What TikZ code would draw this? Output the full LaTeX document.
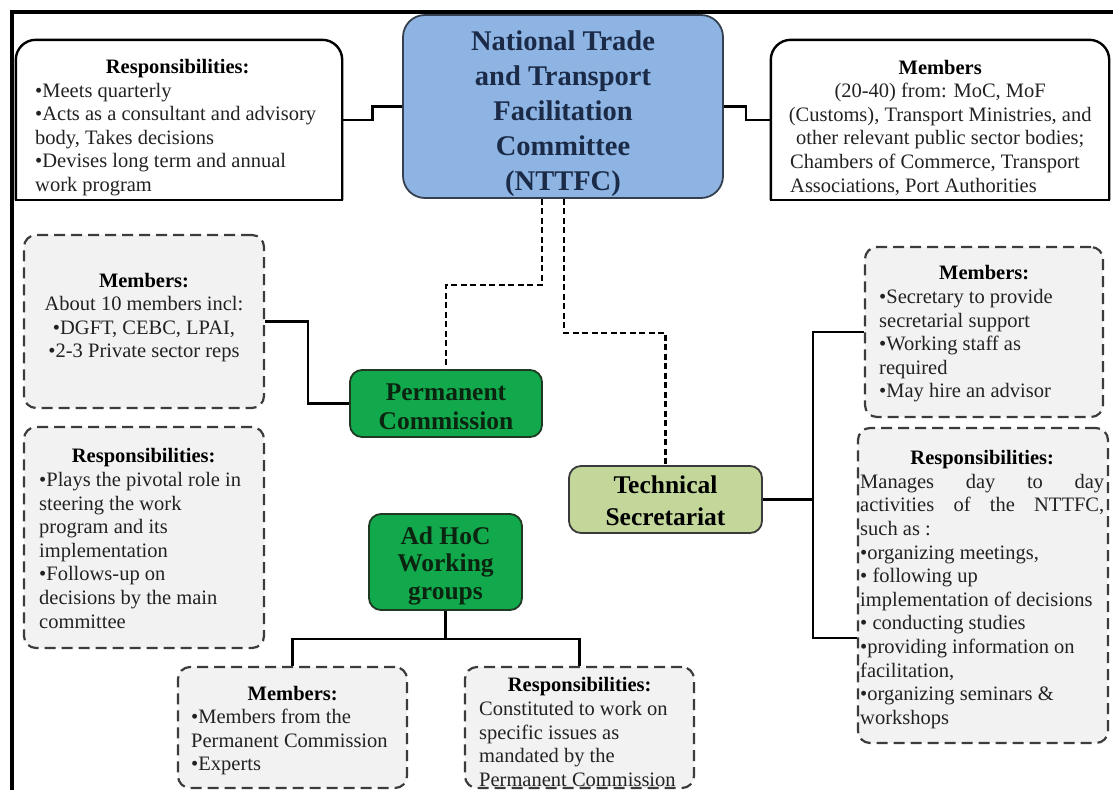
\documentclass[tikz,border=0pt]{standalone}
\usepackage{fontspec}
\setmainfont{Liberation Serif}
\usetikzlibrary{backgrounds}
\definecolor{nttfcfill}{HTML}{8DB4E2}
\definecolor{nttfcdraw}{HTML}{34404F}
\definecolor{nttfctext}{HTML}{1B2A47}
\definecolor{greenfill}{HTML}{12A84C}
\definecolor{greendraw}{HTML}{1E3A22}
\definecolor{greentext}{HTML}{0A2410}
\definecolor{tsfill}{HTML}{C4D79B}
\definecolor{tsdraw}{HTML}{3A3A3A}
\definecolor{boxgray}{HTML}{F2F2F2}
\definecolor{dashgray}{HTML}{3C3C3C}
\definecolor{bodytext}{HTML}{222222}
\tikzset{
  plainbox/.style={rectangle, inner sep=0pt, draw=none},
  topline/.style={line width=2.4pt, black, rounded corners=20pt, line join=round},
  mainbox/.style={rectangle, rounded corners=22pt, draw=nttfcdraw, line width=1.8pt, fill=nttfcfill, inner sep=0pt},
  greenbox/.style={rectangle, rounded corners=12pt, draw=greendraw, line width=1.8pt, fill=greenfill, inner sep=0pt},
  tsbox/.style={rectangle, rounded corners=12pt, draw=tsdraw, line width=1.8pt, fill=tsfill, inner sep=0pt},
  dashbox/.style={rectangle, rounded corners=12pt, draw=dashgray, line width=2.2pt, dash pattern=on 11pt off 6pt, fill=boxgray, inner sep=0pt},
  conn/.style={line width=2.6pt, black},
  dconn/.style={line width=2.6pt, black, dash pattern=on 6pt off 3.5pt},
  body/.style={inner sep=0pt, align=left, text=bodytext, font=\fontsize{20.5}{23.6}\selectfont},
  ctrbody/.style={body, align=center},
  boldtitle/.style={inner sep=0pt, align=center, text=black, font=\bfseries\fontsize{25.5}{29}\selectfont}
}
\begin{document}
\begin{tikzpicture}[x=1pt,y=-1pt]
\useasboundingbox (0,0) rectangle (1113,790);
% frame
\draw[line width=4pt] (12,790) -- (12,12) -- (1113,12);

% top boxes
\node[plainbox, minimum width=326pt, minimum height=160pt] (tlbox) at (179,120) {};
\draw[topline] (tlbox.south west) -- (tlbox.north west) -- (tlbox.north east) -- (tlbox.south east);
\draw[line width=2.4pt, line cap=rect] (tlbox.south west) -- (tlbox.south east);
\node[body, anchor=west] (tltext) at (35,127.5) {%
\makebox[285pt][c]{\bfseries\color{black}Responsibilities:}\\
•Meets quarterly\\
•Acts as a consultant and advisory\\
body, Takes decisions\\
•Devises long term and annual\\
work program};

\node[plainbox, minimum width=338pt, minimum height=160pt] (trbox) at (940,120) {};
\draw[topline] (trbox.south west) -- (trbox.north west) -- (trbox.north east) -- (trbox.south east);
\draw[line width=2.4pt, line cap=rect] (trbox.south west) -- (trbox.south east);
\node[body, anchor=west] (trtext) at (790,127.5) {%
\makebox[300pt][c]{\bfseries\color{black}Members}\\
\makebox[300pt][c]{(20-40) from: MoC, MoF}\\
\makebox[300pt][c]{(Customs), Transport Ministries, and}\\
\makebox[300pt][c]{other relevant public sector bodies;}\\
Chambers of Commerce, Transport\\
Associations, Port Authorities};

\node[mainbox, minimum width=320pt, minimum height=183pt] (nttfc) at (563,106.5) {};
\node[inner sep=0pt, align=center, text=nttfctext, font=\bfseries\fontsize{28.5}{35}\selectfont] (nttfctext) at (563,113.5)
  {National Trade\\and Transport\\Facilitation\\Committee\\(NTTFC)};

% permanent commission
\node[dashbox, minimum width=240pt, minimum height=173pt] (pcmem) at (144,321.5) {};
\node[ctrbody] (pcmemtext) at (144,317.5) {{\bfseries\color{black}Members:}\\About 10 members incl:\\•DGFT, CEBC, LPAI,\\•2-3 Private sector reps};

\node[dashbox, minimum width=240pt, minimum height=221pt] (pcresp) at (144,537.5) {};
\node[body, anchor=west] (pcresptext) at (39,538.5) {%
\makebox[209pt][c]{\bfseries\color{black}Responsibilities:}\\
•Plays the pivotal role in\\
steering the work\\
program and its\\
implementation\\
•Follows-up on\\
decisions by the main\\
committee};

\node[greenbox, minimum width=192pt, minimum height=67pt] (pc) at (446,403.5) {};
\node[boldtitle, text=greentext] (pctext) at (446,406.5) {Permanent\\Commission};

% ad hoc
\node[greenbox, minimum width=153pt, minimum height=96pt] (adhoc) at (445.5,562) {};
\node[boldtitle, text=greentext, font=\bfseries\fontsize{25.5}{27.5}\selectfont] (adhoctext) at (445.5,565.5) {Ad HoC\\Working\\groups};

\node[dashbox, minimum width=229pt, minimum height=121pt] (ahmem) at (292.5,727.5) {};
\node[body, anchor=west] (ahmemtext) at (191,730.5) {%
\makebox[203pt][c]{\bfseries\color{black}Members:}\\
•Members from the\\
Permanent Commission\\
•Experts};

\node[dashbox, minimum width=229pt, minimum height=121pt] (ahresp) at (579.5,727.5) {};
\node[body, anchor=west] (ahresptext) at (479,732) {%
\makebox[201pt][c]{\bfseries\color{black}Responsibilities:}\\
Constituted to work on\\
specific issues as\\
mandated by the\\
Permanent Commission};

% technical secretariat
\node[tsbox, minimum width=193pt, minimum height=67pt] (ts) at (665.5,499.5) {};
\node[boldtitle, font=\bfseries\fontsize{25.5}{32}\selectfont] (tstext) at (665.5,501) {Technical\\Secretariat};

\node[dashbox, minimum width=238pt, minimum height=170pt] (tsmem) at (984,332) {};
\node[body, anchor=west] (tsmemtext) at (879,334) {%
\makebox[210pt][c]{\bfseries\color{black}Members:}\\
•Secretary to provide\\
secretarial support\\
•Working staff as\\
required\\
•May hire an advisor};

\node[dashbox, minimum width=250pt, minimum height=315pt] (tsresp) at (983,585.5) {};
\node[body, anchor=west] (tsresptext) at (860,589.5) {%
\makebox[244pt][c]{\bfseries\color{black}Responsibilities:}\\
\makebox[244pt][s]{Manages day to day}\\
\makebox[244pt][s]{activities of the NTTFC,}\\
such as :\\
•organizing meetings,\\
• following up\\
implementation of decisions\\
• conducting studies\\
•providing information on\\
facilitation,\\
•organizing seminars \&\\
workshops};

% connectors
\begin{scope}[on background layer]
\fill[white] (0,0) rectangle (1113,790);
\draw[conn] (tlbox.east) -- ++(30,0) |- (nttfc.west);
\draw[conn] (nttfc.east) -- ++(22,0) |- (trbox.west);
\draw[dconn] ([xshift=-21pt]nttfc.south) -- ++(0,86) -| (pc.north);
\draw[dconn] ([xshift=1pt]nttfc.south) -- ++(0,134) -| (ts.north);
\draw[conn] (pcmem.east) -- ++(43,0) |- (pc.west);
\coordinate (tsj) at (813,499.5);
\coordinate (tsl) at (813,638);
\draw[conn] (ts.east) -- (tsj);
\draw[conn] (tsmem.west) -| (tsj) -- (tsl) -- (tsl -| tsresp.west);
\draw[conn] (adhoc.south) -- ++(0,28) coordinate (ahj);
\draw[conn] (ahmem.north) |- (ahj) -| (ahresp.north);
\end{scope}
\end{tikzpicture}
\end{document}
